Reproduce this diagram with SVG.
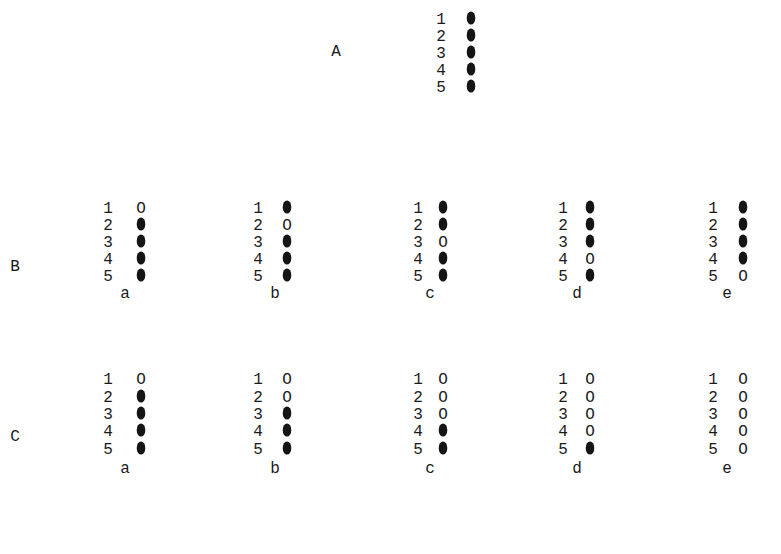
<svg xmlns="http://www.w3.org/2000/svg" width="781" height="554" viewBox="0 0 781 554">
<style>
text{font-family:"Liberation Mono","Courier New",monospace;font-size:16px;fill:#1a1a1a;text-anchor:middle}
.f{fill:#151515}
</style>
<defs>
<ellipse id="dot" class="f" cx="0" cy="0" rx="4.3" ry="6.6"/>
</defs>
<rect width="781" height="554" fill="#fff"/>
<g id="A">
<text x="336" y="56">A</text>
<text x="441" y="24">1</text><use href="#dot" x="471" y="18"/>
<text x="441" y="41">2</text><use href="#dot" x="471" y="35"/>
<text x="441" y="58">3</text><use href="#dot" x="471" y="52"/>
<text x="441" y="75">4</text><use href="#dot" x="471" y="69"/>
<text x="441" y="92">5</text><use href="#dot" x="471" y="86"/>
</g>
<g id="rowB"><text x="15" y="271">B</text></g>
<g id="B-a">
<text x="108" y="213">1</text><text x="141" y="213">O</text>
<text x="108" y="230">2</text><use href="#dot" x="141" y="224"/>
<text x="108" y="247">3</text><use href="#dot" x="141" y="241"/>
<text x="108" y="264">4</text><use href="#dot" x="141" y="258"/>
<text x="108" y="281">5</text><use href="#dot" x="141" y="275"/>
<text x="125" y="298">a</text>
</g>
<g id="B-b">
<text x="258" y="213">1</text><use href="#dot" x="287" y="207"/>
<text x="258" y="230">2</text><text x="287" y="230">O</text>
<text x="258" y="247">3</text><use href="#dot" x="287" y="241"/>
<text x="258" y="264">4</text><use href="#dot" x="287" y="258"/>
<text x="258" y="281">5</text><use href="#dot" x="287" y="275"/>
<text x="275" y="298">b</text>
</g>
<g id="B-c">
<text x="418" y="213">1</text><use href="#dot" x="443" y="207"/>
<text x="418" y="230">2</text><use href="#dot" x="443" y="224"/>
<text x="418" y="247">3</text><text x="443" y="247">O</text>
<text x="418" y="264">4</text><use href="#dot" x="443" y="258"/>
<text x="418" y="281">5</text><use href="#dot" x="443" y="275"/>
<text x="430" y="298">c</text>
</g>
<g id="B-d">
<text x="563" y="213">1</text><use href="#dot" x="590" y="207"/>
<text x="563" y="230">2</text><use href="#dot" x="590" y="224"/>
<text x="563" y="247">3</text><use href="#dot" x="590" y="241"/>
<text x="563" y="264">4</text><text x="590" y="264">O</text>
<text x="563" y="281">5</text><use href="#dot" x="590" y="275"/>
<text x="577" y="298">d</text>
</g>
<g id="B-e">
<text x="713" y="213">1</text><use href="#dot" x="743" y="207"/>
<text x="713" y="230">2</text><use href="#dot" x="743" y="224"/>
<text x="713" y="247">3</text><use href="#dot" x="743" y="241"/>
<text x="713" y="264">4</text><use href="#dot" x="743" y="258"/>
<text x="713" y="281">5</text><text x="743" y="281">O</text>
<text x="727" y="298">e</text>
</g>
<g id="rowC"><text x="15" y="441">C</text></g>
<g id="C-a">
<text x="108" y="384">1</text><text x="141" y="384">O</text>
<text x="108" y="402">2</text><use href="#dot" x="141" y="396"/>
<text x="108" y="419">3</text><use href="#dot" x="141" y="413"/>
<text x="108" y="436">4</text><use href="#dot" x="141" y="430"/>
<text x="108" y="454">5</text><use href="#dot" x="141" y="448"/>
<text x="125" y="473">a</text>
</g>
<g id="C-b">
<text x="258" y="384">1</text><text x="287" y="384">O</text>
<text x="258" y="402">2</text><text x="287" y="402">O</text>
<text x="258" y="419">3</text><use href="#dot" x="287" y="413"/>
<text x="258" y="436">4</text><use href="#dot" x="287" y="430"/>
<text x="258" y="454">5</text><use href="#dot" x="287" y="448"/>
<text x="275" y="473">b</text>
</g>
<g id="C-c">
<text x="418" y="384">1</text><text x="443" y="384">O</text>
<text x="418" y="402">2</text><text x="443" y="402">O</text>
<text x="418" y="419">3</text><text x="443" y="419">O</text>
<text x="418" y="436">4</text><use href="#dot" x="443" y="430"/>
<text x="418" y="454">5</text><use href="#dot" x="443" y="448"/>
<text x="430" y="473">c</text>
</g>
<g id="C-d">
<text x="563" y="384">1</text><text x="590" y="384">O</text>
<text x="563" y="402">2</text><text x="590" y="402">O</text>
<text x="563" y="419">3</text><text x="590" y="419">O</text>
<text x="563" y="436">4</text><text x="590" y="436">O</text>
<text x="563" y="454">5</text><use href="#dot" x="590" y="448"/>
<text x="577" y="473">d</text>
</g>
<g id="C-e">
<text x="713" y="384">1</text><text x="743" y="384">O</text>
<text x="713" y="402">2</text><text x="743" y="402">O</text>
<text x="713" y="419">3</text><text x="743" y="419">O</text>
<text x="713" y="436">4</text><text x="743" y="436">O</text>
<text x="713" y="454">5</text><text x="743" y="454">O</text>
<text x="727" y="473">e</text>
</g>
<g id="connectors"/>
</svg>
